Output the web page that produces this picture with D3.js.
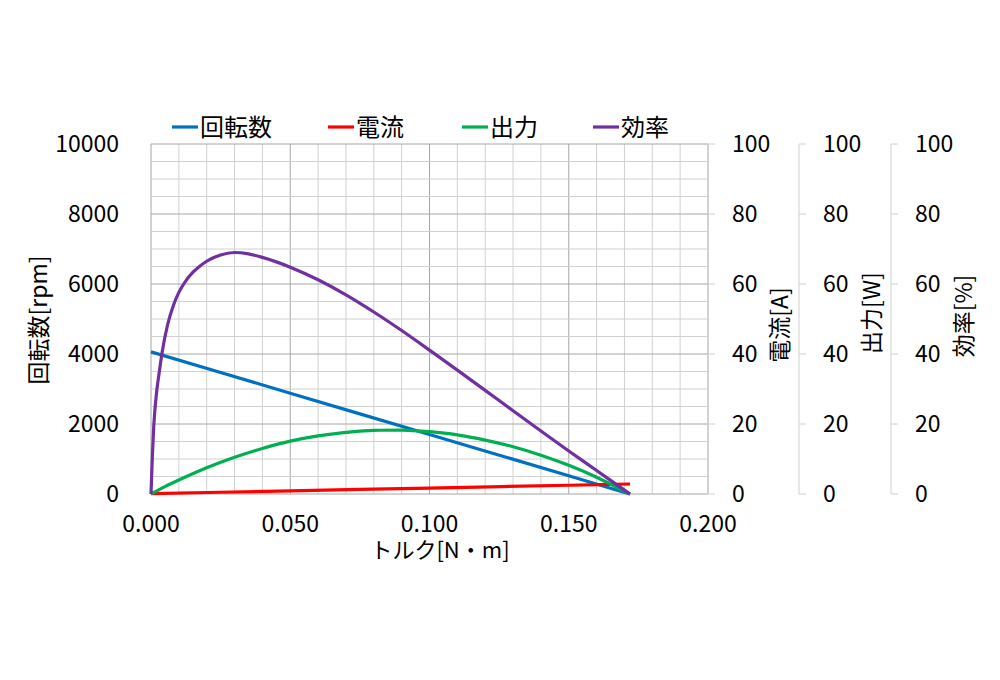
<!DOCTYPE html>
<html>
<head>
<meta charset="utf-8">
<script src="https://cdn.jsdelivr.net/npm/d3@7"></script>
<style>
  body { margin: 0; background: #fff; }
  svg text { font-family: "Noto Sans CJK JP", "Noto Sans", sans-serif; fill: #000; }
</style>
</head>
<body>
<svg id="chart" width="1000" height="680"></svg>
<script>
// torque [N·m] samples, per series
var speedTorque = [0, 0.05, 0.10, 0.15, 0.172];
var speed = [4060, 2880, 1700, 520, 0];                 // rpm

var currentTorque = [0, 0.05, 0.10, 0.15, 0.172];
var current = [0.1, 0.9, 1.7, 2.5, 2.85];              // A

var powerTorque = [0, 0.005, 0.01, 0.02, 0.03, 0.04, 0.05, 0.06, 0.07, 0.08, 0.09,
                   0.10, 0.11, 0.12, 0.13, 0.14, 0.15, 0.16, 0.17, 0.172];
var power = [0, 2.1, 4.0, 7.5, 10.5, 13.0, 15.1, 16.6, 17.6, 18.2, 18.25,
             17.8, 16.9, 15.4, 13.5, 11.1, 8.2, 4.8, 0.8, 0];   // W

var effTorque = [0, 0.0005, 0.001, 0.002, 0.003, 0.004, 0.006, 0.008, 0.01, 0.0125,
                 0.015, 0.0175, 0.02, 0.025, 0.03, 0.035, 0.04, 0.05, 0.06, 0.07,
                 0.08, 0.09, 0.10, 0.11, 0.12, 0.13, 0.14, 0.15, 0.16, 0.17, 0.172];
var efficiency = [0, 11, 19.5, 29, 35, 40.5, 48.5, 53.8, 57.6, 60.9,
                  63.3, 65.1, 66.5, 68.3, 69.0, 68.6, 67.6, 64.8, 61.2, 56.9,
                  52.0, 46.7, 41.1, 35.4, 29.6, 23.8, 18.0, 12.3, 6.7, 1.1, 0];  // %

var xTicks = [0, 0.05, 0.10, 0.15, 0.20];
var leftTicks = [0, 2000, 4000, 6000, 8000, 10000];
var rightTicks = [0, 20, 40, 60, 80, 100];
var legendNames = ['回転数', '電流', '出力', '効率'];
var colors = ['#0070C0', '#FF0000', '#00B050', '#7030A0'];

(function () {
  var svg = d3.select('#chart');
  var pLeft = 151, pRight = 708, pTop = 144, pBottom = 494;
  var tickFont = '23px', titleFont = '23px';

  var x = d3.scaleLinear().domain([0, 0.2]).range([pLeft, pRight]);
  var yRpm = d3.scaleLinear().domain([0, 10000]).range([pBottom, pTop]);
  var yPct = d3.scaleLinear().domain([0, 100]).range([pBottom, pTop]);

  // grid
  var grid = svg.append('g');
  d3.range(0, 21).forEach(function (i) {
    var t = i * 0.01;
    grid.append('line')
      .attr('x1', x(t)).attr('x2', x(t)).attr('y1', pTop).attr('y2', pBottom)
      .attr('stroke', i % 5 == 0 ? '#a6a6a6' : '#d0d0d0').attr('stroke-width', 1);
  });
  d3.range(0, 21).forEach(function (i) {
    var v = i * 500;
    grid.append('line')
      .attr('x1', pLeft).attr('x2', pRight).attr('y1', yRpm(v)).attr('y2', yRpm(v))
      .attr('stroke', i % 4 == 0 ? '#a6a6a6' : '#d0d0d0').attr('stroke-width', 1);
  });

  // bottom axis labels
  svg.append('g').selectAll('text').data(xTicks).enter().append('text')
    .attr('x', function (d) { return x(d) }).attr('y', 532)
    .attr('text-anchor', 'middle').style('font-size', tickFont)
    .text(function (d) { return d3.format('.3f')(d) });
  svg.append('text').attr('x', 440).attr('y', 558)
    .attr('text-anchor', 'middle').style('font-size', '22px').text('トルク[N・m]');

  // left axis labels
  svg.append('g').selectAll('text').data(leftTicks).enter().append('text')
    .attr('x', 119).attr('y', function (d) { return yRpm(d) })
    .attr('dy', '0.36em').attr('text-anchor', 'end').style('font-size', tickFont)
    .text(function (d) { return d });
  svg.append('text').attr('transform', 'translate(47,320) rotate(-90)')
    .attr('text-anchor', 'middle').style('font-size', titleFont).text('回転数[rpm]');

  // three right axes
  var rightAxes = [
    { x: 708, title: '電流[A]', tx: 788, ty: 325 },
    { x: 799, title: '出力[W]', tx: 880, ty: 313 },
    { x: 891, title: '効率[%]', tx: 972, ty: 316 }
  ];
  rightAxes.forEach(function (a) {
    var g = svg.append('g');
    g.append('line').attr('x1', a.x).attr('x2', a.x).attr('y1', pTop).attr('y2', pBottom)
      .attr('stroke', '#d0d0d0');
    rightTicks.forEach(function (v) {
      g.append('line').attr('x1', a.x).attr('x2', a.x + 7)
        .attr('y1', yPct(v)).attr('y2', yPct(v)).attr('stroke', '#d0d0d0');
      g.append('text').attr('x', a.x + 24).attr('y', yPct(v)).attr('dy', '0.36em')
        .style('font-size', tickFont).text(v);
    });
    g.append('text').attr('transform', 'translate(' + a.tx + ',' + a.ty + ') rotate(-90)')
      .attr('text-anchor', 'middle').style('font-size', titleFont).text(a.title);
  });

  // series
  var series = [
    { t: speedTorque, v: speed, y: yRpm },
    { t: currentTorque, v: current, y: yPct },
    { t: powerTorque, v: power, y: yPct },
    { t: effTorque, v: efficiency, y: yPct }
  ];
  series.forEach(function (s, i) {
    var pts = s.t.map(function (t, j) { return [t, s.v[j]] });
    var line = d3.line()
      .x(function (d) { return x(d[0]) })
      .y(function (d) { return s.y(d[1]) })
      .curve(d3.curveMonotoneX);
    svg.append('path').datum(pts)
      .attr('fill', 'none').attr('stroke', colors[i]).attr('stroke-width', 3.2)
      .attr('stroke-linejoin', 'round')
      .attr('d', line);
  });

  // legend
  var legendX = [172, 328, 462, 593];
  legendNames.forEach(function (name, i) {
    svg.append('line').attr('x1', legendX[i]).attr('x2', legendX[i] + 26)
      .attr('y1', 127).attr('y2', 127).attr('stroke', colors[i]).attr('stroke-width', 3.2);
    svg.append('text').attr('x', legendX[i] + 28).attr('y', 127).attr('dy', '0.36em')
      .style('font-size', '24px').text(name);
  });
})();
</script>
</body>
</html>
